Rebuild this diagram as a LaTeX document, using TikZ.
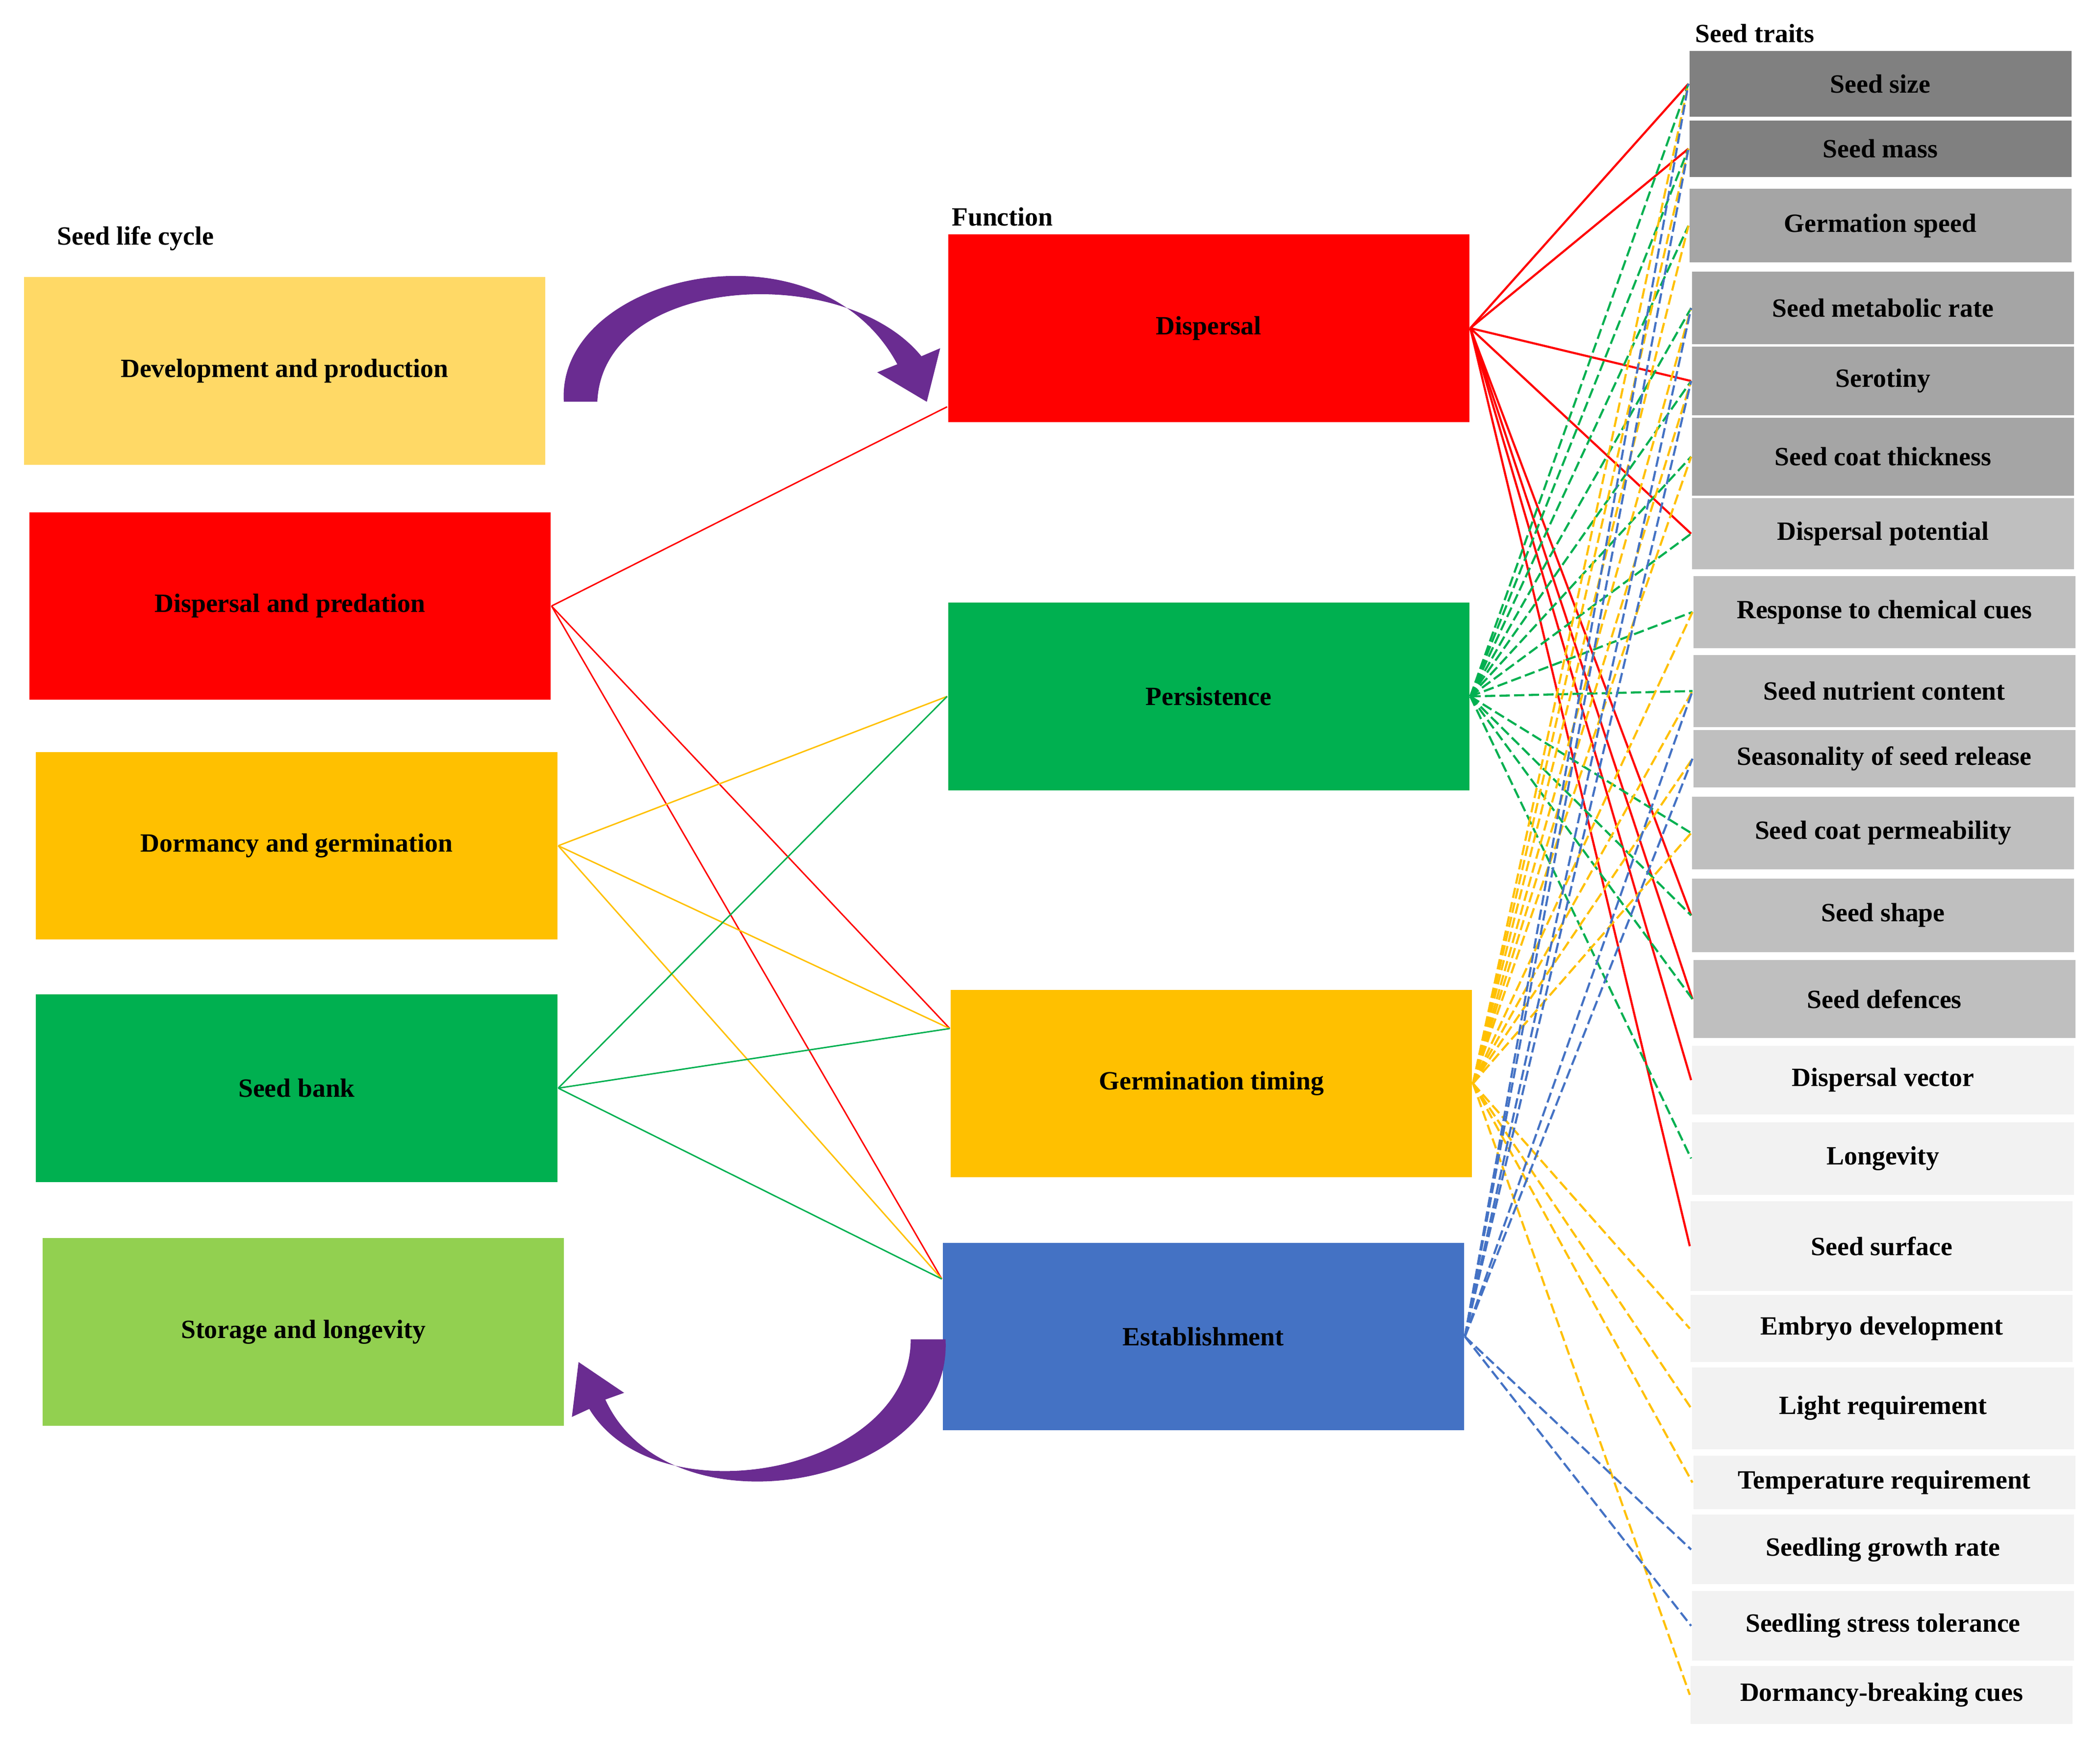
\documentclass[tikz,border=0pt]{standalone}
\usepackage{fontspec}
\setmainfont{Liberation Serif}
\usetikzlibrary{positioning}
\definecolor{cGold}{HTML}{FFD966}
\definecolor{cRed}{HTML}{FF0000}
\definecolor{cOrange}{HTML}{FFC000}
\definecolor{cGreen}{HTML}{00B050}
\definecolor{cLime}{HTML}{92D050}
\definecolor{cBlue}{HTML}{4472C4}
\definecolor{cPurple}{HTML}{6A2C91}
\definecolor{gA}{HTML}{808080}
\definecolor{gB}{HTML}{A5A5A5}
\definecolor{gC}{HTML}{BFBFBF}
\definecolor{gD}{HTML}{F2F2F2}
\begin{document}
\begin{tikzpicture}[x=0.01cm,y=-0.01cm,
  every node/.style={font=\fontsize{5.6}{6.6}\selectfont\bfseries},
  stage/.style={rectangle,inner sep=0pt,minimum width=3.89cm,minimum height=1.4cm},
  trait/.style={rectangle,inner sep=0pt,minimum width=2.85cm},
  head/.style={anchor=west,inner sep=0pt},
  solid link/.style={line width=0.45pt},
  thin link/.style={line width=0.3pt},
  dash link/.style={line width=0.45pt,dash pattern=on 2.2pt off 0.9pt}]
\useasboundingbox (0,0) rectangle (1568,1302);
% seed life cycle
\node[head] at (42,178) {Seed life cycle};
\node[stage,fill=cGold] (dev) at (212.5,277) {Development and production};
\node[stage,fill=cRed] (pred) at (216.5,452.5) {Dispersal and predation};
\node[stage,fill=cOrange] (dorm) at (221.5,631.5) {Dormancy and germination};
\node[stage,fill=cGreen] (bank) at (221.5,812.5) {Seed bank};
\node[stage,fill=cLime] (store) at (226.5,994.5) {Storage and longevity};
% function
\node[head] at (710,162) {Function};
\node[stage,fill=cRed] (fDisp) at (902.5,245) {Dispersal};
\node[stage,fill=cGreen] (fPers) at (902.5,520) {Persistence};
\node[stage,fill=cOrange] (fGerm) at (904.5,809) {Germination timing};
\node[stage,fill=cBlue] (fEst) at (898.5,998) {Establishment};
% seed traits
\node[head] at (1265,25) {Seed traits};
\node[trait,fill=gA,minimum height=0.49cm] (t1) at (1404,62.5) {Seed size};
\node[trait,fill=gA,minimum height=0.42cm] (t2) at (1404,111) {Seed mass};
\node[trait,fill=gB,minimum height=0.55cm] (t3) at (1404,168.5) {Germation speed};
\node[trait,fill=gB,minimum height=0.54cm] (t4) at (1406,230) {Seed metabolic rate};
\node[trait,fill=gB,minimum height=0.51cm] (t5) at (1406,284.5) {Serotiny};
\node[trait,fill=gB,minimum height=0.58cm] (t6) at (1406,341) {Seed coat thickness};
\node[trait,fill=gC,minimum height=0.53cm] (t7) at (1406,398.5) {Dispersal potential};
\node[trait,fill=gC,minimum height=0.54cm] (t8) at (1407,457) {Response to chemical cues};
\node[trait,fill=gC,minimum height=0.54cm] (t9) at (1407,516) {Seed nutrient content};
\node[trait,fill=gC,minimum height=0.43cm] (t10) at (1407,566.5) {Seasonality of seed release};
\node[trait,fill=gC,minimum height=0.54cm] (t11) at (1406,622) {Seed coat permeability};
\node[trait,fill=gC,minimum height=0.55cm] (t12) at (1406,683.5) {Seed shape};
\node[trait,fill=gC,minimum height=0.58cm] (t13) at (1407,746) {Seed defences};
\node[trait,fill=gD,minimum height=0.51cm] (t14) at (1406,806.5) {Dispersal vector};
\node[trait,fill=gD,minimum height=0.54cm] (t15) at (1406,865) {Longevity};
\node[trait,fill=gD,minimum height=0.67cm] (t16) at (1405,930.5) {Seed surface};
\node[trait,fill=gD,minimum height=0.50cm] (t17) at (1405,992) {Embryo development};
\node[trait,fill=gD,minimum height=0.61cm] (t18) at (1406,1051.5) {Light requirement};
\node[trait,fill=gD,minimum height=0.40cm] (t19) at (1407,1107) {Temperature requirement};
\node[trait,fill=gD,minimum height=0.52cm] (t20) at (1406,1157) {Seedling growth rate};
\node[trait,fill=gD,minimum height=0.52cm] (t21) at (1406,1214) {Seedling stress tolerance};
\node[trait,fill=gD,minimum height=0.43cm] (t22) at (1405,1265.5) {Dormancy-breaking cues};
% life cycle to function
\draw[thin link,cRed] (pred.east) -- ([yshift=0.12cm]fDisp.south west);
\draw[thin link,cRed] (pred.east) -- ([yshift=0.41cm]fGerm.west);
\draw[thin link,cRed] (pred.east) -- ([yshift=0.43cm]fEst.west);
\draw[thin link,cOrange] (dorm.east) -- (fPers.west);
\draw[thin link,cOrange] (dorm.east) -- ([yshift=0.41cm]fGerm.west);
\draw[thin link,cOrange] (dorm.east) -- ([yshift=0.43cm]fEst.west);
\draw[thin link,cGreen] (bank.east) -- (fPers.west);
\draw[thin link,cGreen] (bank.east) -- ([yshift=0.41cm]fGerm.west);
\draw[thin link,cGreen] (bank.east) -- ([yshift=0.43cm]fEst.west);
% function to traits
\foreach \t in {t1,t2,t5,t7,t12,t13,t14,t16}
  \draw[solid link,cRed] (fDisp.east) -- (\t.west);
\foreach \t in {t1,t2,t3,t4,t5,t6,t7,t8,t9,t11,t12,t13,t15}
  \draw[dash link,cGreen] (fPers.east) -- (\t.west);
\foreach \t in {t1,t2,t3,t4,t5,t6,t8,t9,t10,t11,t17,t18,t19,t22}
  \draw[dash link,cOrange] (fGerm.east) -- (\t.west);
\foreach \t in {t1,t2,t4,t5,t9,t10,t20,t21}
  \draw[dash link,cBlue] (fEst.east) -- (\t.west);
% cycle arrows
\fill[cPurple] (421,300) .. controls (415,205) and (610,160) .. (670,272)
  -- (655,278) -- (692,300) -- (702,260) -- (688,266)
  .. controls (630,195) and (450,205) .. (446,300) -- cycle;
\fill[cPurple] (706,1000) .. controls (712,1110) and (500,1150) .. (452,1045)
  -- (466,1040) -- (432,1017) -- (427,1058) -- (440,1052)
  .. controls (490,1135) and (680,1100) .. (680,1000) -- cycle;
\end{tikzpicture}
\end{document}
